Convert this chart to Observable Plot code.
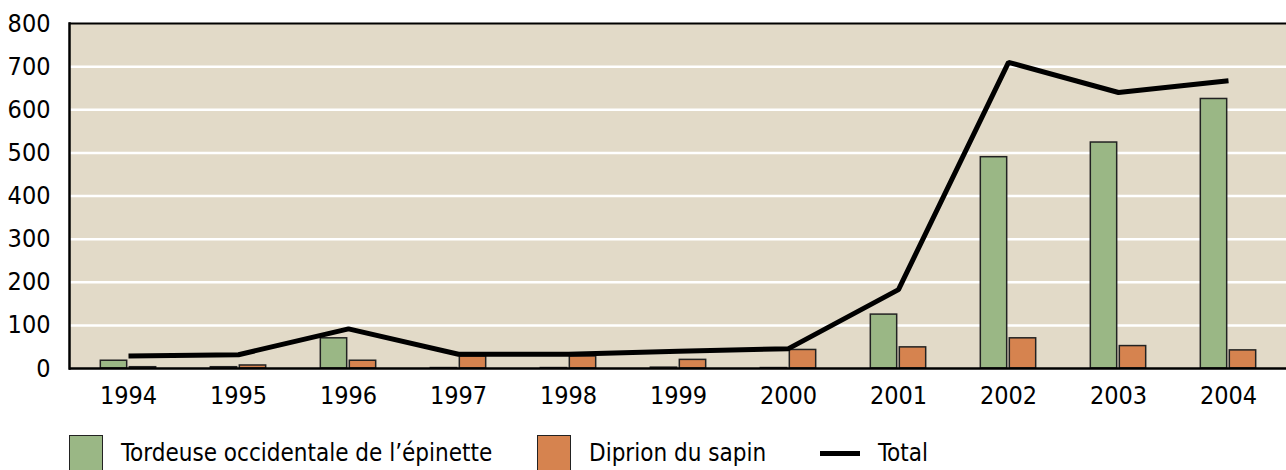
<!DOCTYPE html>
<html>
<head>
<meta charset="utf-8">
<script src="https://cdn.jsdelivr.net/npm/d3@7"></script>
<script src="https://cdn.jsdelivr.net/npm/@observablehq/plot@0.6"></script>
<style>
  html, body { margin: 0; padding: 0; background: #fff; width: 1286px; height: 470px; overflow: hidden; }
  #chart svg { display: block; }
  #legend { position: relative; height: 50px; font-family: 'DejaVu Sans Condensed', 'DejaVu Sans', sans-serif; font-stretch: condensed; font-size: 24px; color: #000; }
  .item { position: absolute; top: 15px; display: flex; align-items: flex-start; }
  .sw { width: 34px; height: 36px; box-sizing: border-box; border: 1.5px solid #222; }
  .ln { width: 40px; height: 5px; background: #000; margin-top: 16px; }
  .lbl { margin-left: 18px; line-height: 44px; margin-top: -4px; white-space: nowrap; }
</style>
</head>
<body>
<div id="chart"></div>
<div id="legend"></div>
<script>
// ---- data ----
const years = ["1994","1995","1996","1997","1998","1999","2000","2001","2002","2003","2004"];
const tordeuse = [18, 3, 70, 1, 1, 2, 1, 125, 490, 524, 625];
const diprion  = [3, 7, 18, 28, 28, 20, 43, 49, 70, 52, 42];
const total    = [29, 32, 92, 33, 33, 40, 46, 183, 710, 640, 667];
const yTicks   = [0, 100, 200, 300, 400, 500, 600, 700, 800];
const seriesNames = ["Tordeuse occidentale de l’épinette", "Diprion du sapin", "Total"];

const green = "#9ab785", orange = "#d6834f", bg = "#e2dac8", edge = "#222";

const rows = years.map((y, i) => ({year: y, tordeuse: tordeuse[i], diprion: diprion[i], total: total[i]}));

const W = 1286, mL = 69, mR = 0;
const half = (W - mL - mR) / years.length / 2;

const chart = Plot.plot({
  width: W,
  height: 420,
  marginLeft: mL,
  marginRight: mR,
  marginTop: 23,
  marginBottom: 52,
  style: {fontFamily: "'DejaVu Sans Condensed', 'DejaVu Sans', sans-serif", fontStretch: "condensed", fontSize: "25px", color: "#000", background: "transparent"},
  x: {domain: years, padding: 0, tickSize: 0, tickPadding: 18, label: null},
  y: {domain: [0, 800], ticks: yTicks, tickSize: 0, tickPadding: 19, label: null, tickFormat: d => String(d)},
  marks: [
    Plot.frame({fill: bg, stroke: null}),
    Plot.ruleY(yTicks.filter(v => v > 0 && v < 800), {stroke: "#fff", strokeWidth: 2.5}),
    Plot.barY(rows, {x: "year", y: "tordeuse", fill: green, stroke: edge, strokeWidth: 1.5, insetLeft: half - 28, insetRight: half + 1}),
    Plot.barY(rows, {x: "year", y: "diprion", fill: orange, stroke: edge, strokeWidth: 1.5, insetLeft: half + 1, insetRight: half - 28}),
    Plot.ruleY([0], {stroke: "#000", strokeWidth: 2.5}),
    Plot.ruleY([800], {stroke: "#000", strokeWidth: 2}),
    Plot.frame({anchor: "left", stroke: "#000", strokeWidth: 2.5}),
    Plot.lineY(rows, {x: "year", y: "total", stroke: "#000", strokeWidth: 5, strokeLinejoin: "miter", strokeLinecap: "butt"})
  ]
});
document.getElementById("chart").append(chart);

// ---- legend ----
const legend = document.getElementById("legend");
const items = [
  {name: seriesNames[0], type: "sw", color: green, left: 69},
  {name: seriesNames[1], type: "sw", color: orange, left: 537},
  {name: seriesNames[2], type: "ln", color: "#000", left: 820}
];
for (const it of items) {
  const d = document.createElement("div");
  d.className = "item";
  d.style.left = it.left + "px";
  const s = document.createElement("div");
  s.className = it.type;
  s.style.background = it.color;
  const t = document.createElement("span");
  t.className = "lbl";
  t.textContent = it.name;
  d.append(s, t);
  legend.append(d);
}
</script>
</body>
</html>
